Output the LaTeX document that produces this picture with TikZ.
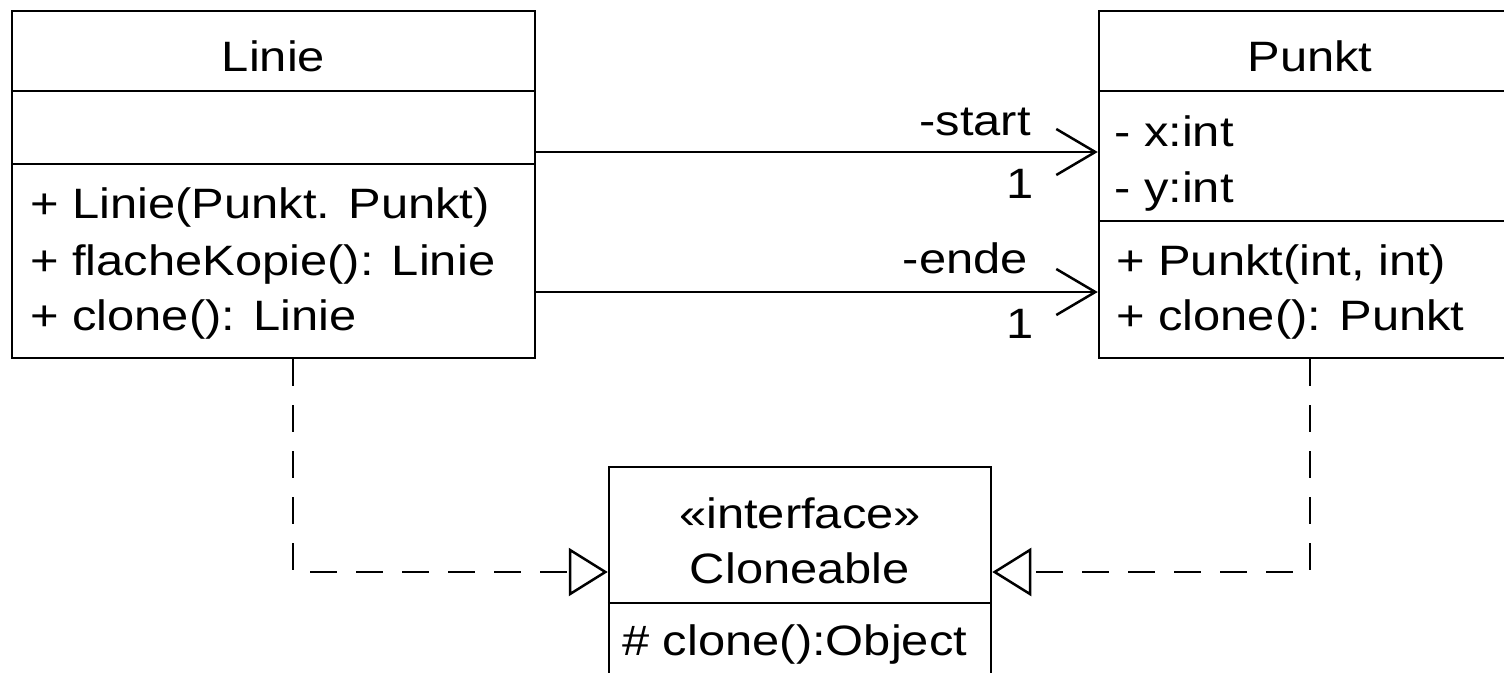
\documentclass[tikz,border=0pt]{standalone}
\usepackage{fontspec}
\setmainfont[FakeStretch=1.15]{Liberation Sans}
\usetikzlibrary{arrows.meta}
\begin{document}
\begin{tikzpicture}[x=1pt,y=-1pt,line width=2.5pt,
  box/.style={draw,inner sep=0pt,line width=2.5pt},
  txt/.style={font=\fontsize{42.5}{50}\selectfont,inner sep=0pt,anchor=base west},
  ttl/.style={font=\fontsize{42.5}{50}\selectfont,inner sep=0pt,anchor=base},
  lbl/.style={font=\fontsize{42.5}{50}\selectfont,inner sep=0pt,anchor=base east},
  assoc/.style={-{Straight Barb[length=39pt,width=46pt,line width=2.5pt]}},
  real/.style={dash pattern=on 27pt off 19pt,-{Triangle[open,length=39pt,width=48pt,line width=2.5pt,fill=white]}}]
\useasboundingbox (0,0) rectangle (1504,672);
\clip (0,0) rectangle (1504,672);
\fill[white] (0,0) rectangle (1504,672);
% boxes
\node[box,minimum width=523pt,minimum height=347pt] (linie) at (273.5,184.5) {};
\node[box,minimum width=422pt,minimum height=347pt] (punkt) at (1310,184.5) {};
\node[box,minimum width=382pt,minimum height=233pt] (cloneable) at (800,583.5) {};
% separators
\draw (linie.west |- 0,91) -- (linie.east |- 0,91);
\draw (linie.west |- 0,164) -- (linie.east |- 0,164);
\draw (punkt.west |- 0,91) -- (punkt.east |- 0,91);
\draw (punkt.west |- 0,221) -- (punkt.east |- 0,221);
\draw (cloneable.west |- 0,603) -- (cloneable.east |- 0,603);
% Linie texts
\node[ttl] (linietitle) at (273.5,71) {Linie};
\node[txt] (lm1) at (29,218) {+ Linie(Punkt. Punkt)};
\node[txt] (lm2) at (29,275) {+ flacheKopie(): Linie};
\node[txt] (lm3) at (29,330) {+ clone(): Linie};
% Punkt texts
\node[ttl] (punkttitle) at (1310,71) {Punkt};
\node[txt] (pa1) at (1113,146) {- x:int};
\node[txt] (pa2) at (1113,202) {- y:int};
\node[txt] (pm1) at (1115,275) {+ Punkt(int, int)};
\node[txt] (pm2) at (1115,330) {+ clone(): Punkt};
% Cloneable texts
\node[ttl] (stereo) at (800,528) {«interface»};
\node[ttl] (cltitle) at (800,583) {Cloneable};
\node[txt] (cm1) at (621,655) {\# clone():Object};
% associations
\draw[assoc] (linie.east |- 0,152) -- (punkt.west |- 0,152);
\draw[assoc] (linie.east |- 0,292) -- (punkt.west |- 0,292);
\node[lbl] (lstart) at (1032,135) {-start};
\node[lbl] (m1) at (1035,198) {1};
\node[lbl] (lende) at (1029,273) {-ende};
\node[lbl] (m2) at (1035,338) {1};
% realizations
\draw[real] (linie.south -| 293,0) |- (cloneable.west |- 0,572);
\draw[real] (punkt.south) |- (cloneable.east |- 0,572);
\end{tikzpicture}
\end{document}
